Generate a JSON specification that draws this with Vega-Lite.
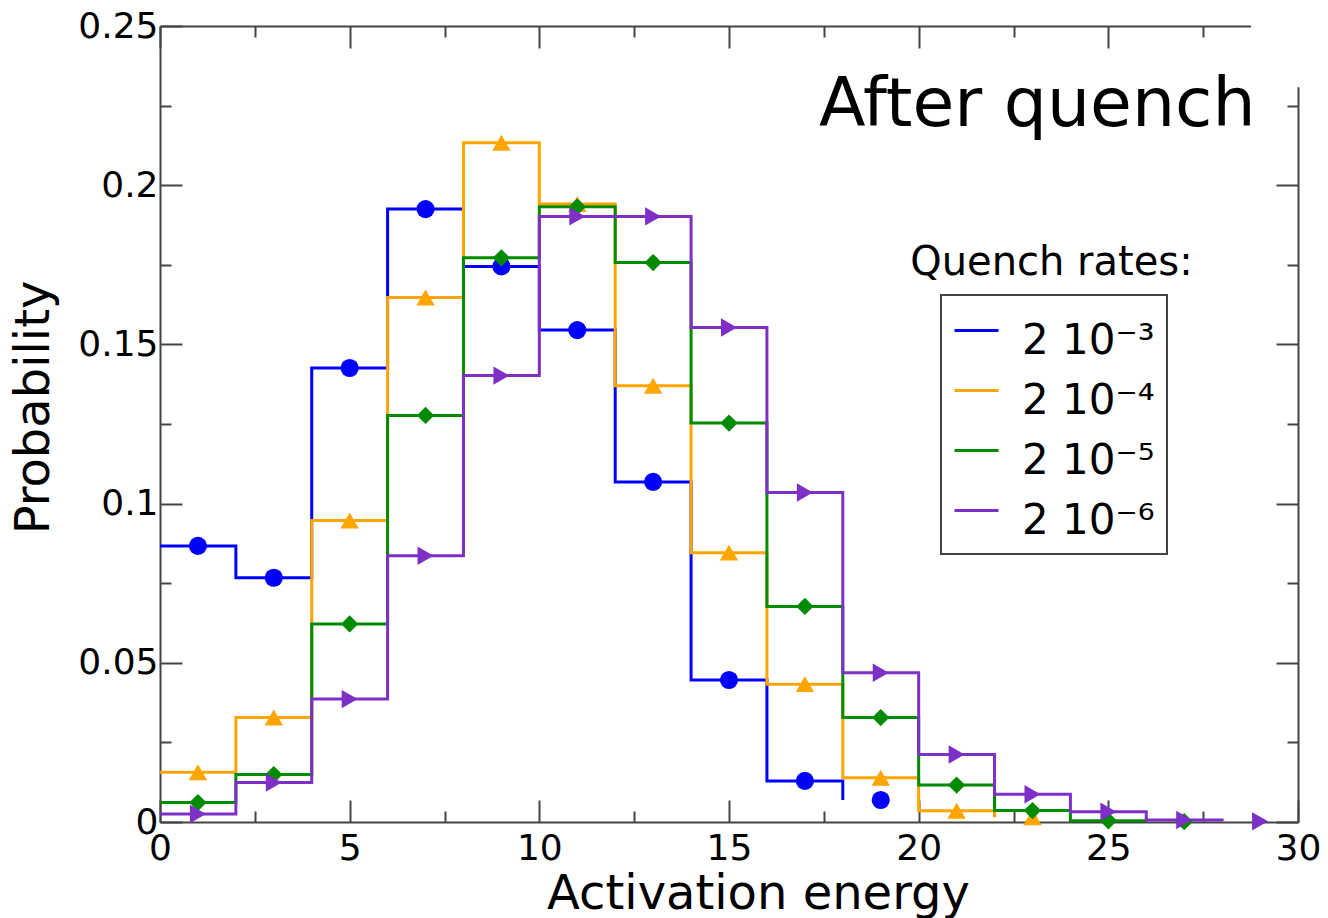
{
  "$schema": "https://vega.github.io/schema/vega-lite/v6.json",
  "autosize": {"type": "none"},
  "padding": {"left": 160, "top": 26, "right": 30, "bottom": 96},
  "width": 1138,
  "height": 796,
  "background": "white",
  "config": {
    "view": {"stroke": null},
    "font": "DejaVu Sans",
    "axis": {
      "grid": false,
      "domainColor": "#444444",
      "domainWidth": 2,
      "tickColor": "#444444",
      "tickWidth": 2,
      "labelColor": "black",
      "titleColor": "black",
      "labelFont": "DejaVu Sans",
      "titleFont": "DejaVu Sans",
      "titleFontWeight": "normal"
    }
  },
  "datasets": {
    "hist": [
      {"rate": "2 10⁻³", "E": 1, "P": 0.0867},
      {"rate": "2 10⁻³", "E": 3, "P": 0.0767},
      {"rate": "2 10⁻³", "E": 5, "P": 0.1426},
      {"rate": "2 10⁻³", "E": 7, "P": 0.1925},
      {"rate": "2 10⁻³", "E": 9, "P": 0.1745},
      {"rate": "2 10⁻³", "E": 11, "P": 0.1545},
      {"rate": "2 10⁻³", "E": 13, "P": 0.1068},
      {"rate": "2 10⁻³", "E": 15, "P": 0.0446},
      {"rate": "2 10⁻³", "E": 17, "P": 0.0129},
      {"rate": "2 10⁻³", "E": 19, "P": 0.0069},
      {"rate": "2 10⁻⁴", "E": 1, "P": 0.0156},
      {"rate": "2 10⁻⁴", "E": 3, "P": 0.0328},
      {"rate": "2 10⁻⁴", "E": 5, "P": 0.0947},
      {"rate": "2 10⁻⁴", "E": 7, "P": 0.1647},
      {"rate": "2 10⁻⁴", "E": 9, "P": 0.2133},
      {"rate": "2 10⁻⁴", "E": 11, "P": 0.1941},
      {"rate": "2 10⁻⁴", "E": 13, "P": 0.137},
      {"rate": "2 10⁻⁴", "E": 15, "P": 0.0846},
      {"rate": "2 10⁻⁴", "E": 17, "P": 0.0433},
      {"rate": "2 10⁻⁴", "E": 19, "P": 0.0139},
      {"rate": "2 10⁻⁴", "E": 21, "P": 0.0035},
      {"rate": "2 10⁻⁴", "E": 23, "P": 0.0015},
      {"rate": "2 10⁻⁵", "E": 1, "P": 0.0061},
      {"rate": "2 10⁻⁵", "E": 3, "P": 0.0149},
      {"rate": "2 10⁻⁵", "E": 5, "P": 0.0622},
      {"rate": "2 10⁻⁵", "E": 7, "P": 0.1277},
      {"rate": "2 10⁻⁵", "E": 9, "P": 0.1772},
      {"rate": "2 10⁻⁵", "E": 11, "P": 0.1932},
      {"rate": "2 10⁻⁵", "E": 13, "P": 0.1757},
      {"rate": "2 10⁻⁵", "E": 15, "P": 0.1253},
      {"rate": "2 10⁻⁵", "E": 17, "P": 0.0677},
      {"rate": "2 10⁻⁵", "E": 19, "P": 0.0328},
      {"rate": "2 10⁻⁵", "E": 21, "P": 0.0116},
      {"rate": "2 10⁻⁵", "E": 23, "P": 0.0036},
      {"rate": "2 10⁻⁵", "E": 25, "P": 0.0004},
      {"rate": "2 10⁻⁵", "E": 27, "P": 0.0001},
      {"rate": "2 10⁻⁶", "E": 1, "P": 0.0025},
      {"rate": "2 10⁻⁶", "E": 3, "P": 0.0124},
      {"rate": "2 10⁻⁶", "E": 5, "P": 0.0386},
      {"rate": "2 10⁻⁶", "E": 7, "P": 0.0836},
      {"rate": "2 10⁻⁶", "E": 9, "P": 0.1402},
      {"rate": "2 10⁻⁶", "E": 11, "P": 0.1902},
      {"rate": "2 10⁻⁶", "E": 13, "P": 0.1902},
      {"rate": "2 10⁻⁶", "E": 15, "P": 0.1553},
      {"rate": "2 10⁻⁶", "E": 17, "P": 0.1035},
      {"rate": "2 10⁻⁶", "E": 19, "P": 0.0469},
      {"rate": "2 10⁻⁶", "E": 21, "P": 0.0212},
      {"rate": "2 10⁻⁶", "E": 23, "P": 0.0087},
      {"rate": "2 10⁻⁶", "E": 25, "P": 0.0032},
      {"rate": "2 10⁻⁶", "E": 27, "P": 0.0006},
      {"rate": "2 10⁻⁶", "E": 29, "P": 0.0002}
    ]
  },
  "resolve": {"axis": {"x": "independent", "y": "independent"}},
  "layer": [
    {
      "data": {"name": "hist"},
      "transform": [{"calculate": "datum.E - 1", "as": "lo"}],
      "mark": {"type": "line", "interpolate": "step-after", "strokeWidth": 3, "strokeJoin": "miter"},
      "encoding": {
        "x": {
          "field": "lo", "type": "quantitative",
          "scale": {"domain": [0, 30], "nice": false, "zero": false},
          "axis": {
            "orient": "bottom", "values": [0, 5, 10, 15, 20, 25, 30], "format": "~g",
            "tickSize": -22, "labelFontSize": 36, "labelPadding": 31,
            "labelFlush": false, "labelOverlap": false,
            "title": "Activation energy", "titleFontSize": 48, "titlePadding": 4, "titleX": 598
          }
        },
        "y": {
          "field": "P", "type": "quantitative",
          "scale": {"domain": [0, 0.25], "nice": false},
          "axis": {
            "orient": "left", "values": [0, 0.05, 0.1, 0.15, 0.2, 0.25], "format": "~g",
            "tickSize": -22, "labelFontSize": 36, "labelPadding": 24,
            "labelFlush": false, "labelOverlap": false,
            "title": "Probability", "titleFontSize": 48, "titlePadding": 19, "titleY": 381
          }
        },
        "color": {
          "field": "rate", "type": "nominal",
          "scale": {
            "domain": ["2 10⁻³", "2 10⁻⁴", "2 10⁻⁵", "2 10⁻⁶"],
            "range": ["#0000ff", "#ffa500", "#008b00", "#7d2fc6"]
          },
          "legend": {
            "orient": "none", "legendX": 781, "legendY": 269, "title": null,
            "symbolType": "stroke", "symbolSize": 1936, "symbolStrokeWidth": 3,
            "labelFontSize": 42, "labelFont": "DejaVu Sans", "labelColor": "black", "labelLimit": 400,
            "padding": 12, "rowPadding": 5, "labelOffset": 22,
            "strokeColor": "#444444", "direction": "vertical",
            "encode": {
              "legend": {"update": {"strokeWidth": {"value": 2}}},
              "labels": {"update": {"dy": {"value": 10}}}
            }
          }
        }
      }
    },
    {
      "data": {"name": "hist"},
      "transform": [{"filter": {"field": "rate", "equal": "2 10⁻³"}}],
      "mark": {"type": "point", "filled": true, "size": 330, "opacity": 1, "shape": "circle"},
      "encoding": {
        "x": {
          "field": "E", "type": "quantitative",
          "axis": {
            "orient": "bottom", "values": [2.5, 7.5, 12.5, 17.5, 22.5, 27.5],
            "tickSize": -11, "labels": false, "domain": false, "title": null
          }
        },
        "y": {
          "field": "P", "type": "quantitative",
          "axis": {
            "orient": "left", "values": [0.025, 0.075, 0.125, 0.175, 0.225],
            "tickSize": -11, "labels": false, "domain": false, "title": null
          }
        },
        "color": {"field": "rate", "type": "nominal"}
      }
    },
    {
      "data": {"name": "hist"},
      "transform": [{"filter": {"field": "rate", "equal": "2 10⁻⁴"}}],
      "mark": {"type": "point", "filled": true, "size": 340, "opacity": 1, "shape": "triangle-up"},
      "encoding": {
        "x": {"field": "E", "type": "quantitative", "axis": null},
        "y": {"field": "P", "type": "quantitative", "axis": null},
        "color": {"field": "rate", "type": "nominal"}
      }
    },
    {
      "data": {"name": "hist"},
      "transform": [{"filter": {"field": "rate", "equal": "2 10⁻⁵"}}],
      "mark": {"type": "point", "filled": true, "size": 300, "opacity": 1, "shape": "diamond"},
      "encoding": {
        "x": {"field": "E", "type": "quantitative", "axis": null},
        "y": {"field": "P", "type": "quantitative", "axis": null},
        "color": {"field": "rate", "type": "nominal"}
      }
    },
    {
      "data": {"name": "hist"},
      "transform": [{"filter": {"field": "rate", "equal": "2 10⁻⁶"}}],
      "mark": {"type": "point", "filled": true, "size": 340, "opacity": 1, "shape": "triangle-right"},
      "encoding": {
        "x": {"field": "E", "type": "quantitative", "axis": null},
        "y": {"field": "P", "type": "quantitative", "axis": null},
        "color": {"field": "rate", "type": "nominal"}
      }
    },
    {
      "data": {"values": [{}]},
      "mark": {"type": "rect", "fill": "white"},
      "encoding": {
        "x": {
          "datum": 28.76, "type": "quantitative",
          "axis": {
            "orient": "top", "values": [0, 5, 10, 15, 20, 25, 30],
            "tickSize": -22, "labels": false, "title": null
          }
        },
        "x2": {"datum": 31},
        "y": {
          "datum": 0.2308, "type": "quantitative",
          "axis": {
            "orient": "right", "values": [0, 0.05, 0.1, 0.15, 0.2, 0.25],
            "tickSize": -22, "labels": false, "title": null
          }
        },
        "y2": {"datum": 0.26}
      }
    },
    {
      "data": {"values": [{}]},
      "mark": {"type": "text", "text": "After quench", "fontSize": 68, "align": "right", "baseline": "alphabetic", "font": "DejaVu Sans", "color": "black"},
      "encoding": {
        "x": {
          "datum": 28.88, "type": "quantitative",
          "axis": {
            "orient": "top", "values": [2.5, 7.5, 12.5, 17.5, 22.5, 27.5],
            "tickSize": -11, "labels": false, "domain": false, "title": null
          }
        },
        "y": {
          "datum": 0.2186, "type": "quantitative",
          "axis": {
            "orient": "right", "values": [0.025, 0.075, 0.125, 0.175, 0.225],
            "tickSize": -11, "labels": false, "domain": false, "title": null
          }
        }
      }
    },
    {
      "data": {"values": [{}]},
      "mark": {"type": "text", "text": "Quench rates:", "fontSize": 40, "align": "center", "baseline": "alphabetic", "font": "DejaVu Sans", "color": "black"},
      "encoding": {
        "x": {"datum": 23.5, "type": "quantitative", "axis": null},
        "y": {"datum": 0.1718, "type": "quantitative", "axis": null}
      }
    }
  ]
}
